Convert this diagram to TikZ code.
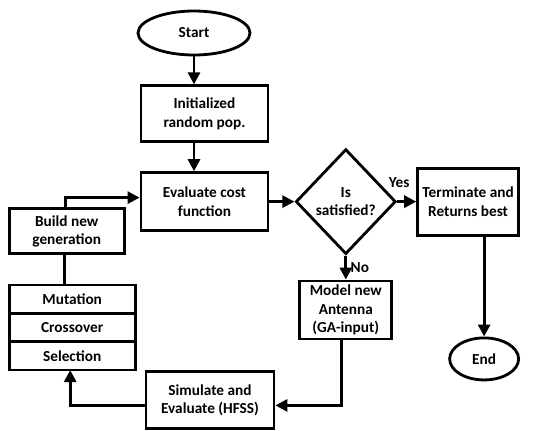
\documentclass[tikz,border=0pt]{standalone}
\usepackage{fontspec}
\setmainfont{Carlito}
\usetikzlibrary{shapes.geometric, arrows.meta, positioning}

\begin{document}
\begin{tikzpicture}[
    >={Triangle[length=0.24cm, width=0.24cm]},
    txt/.style={font=\fontsize{8.7}{10.4}\selectfont\bfseries},
    box/.style={rectangle, draw, line width=1.6pt, minimum width=#1, minimum height=1.14cm, align=center, inner sep=1pt, txt},
    box/.default=2.54cm,
    oval/.style={ellipse, draw, line width=1.6pt, minimum width=#1, minimum height=0.88cm, txt},
    dbox/.style={diamond, draw, line width=1.6pt, minimum width=2cm, minimum height=2.1cm, inner sep=-0.15cm, align=center, txt},
    opbox/.style={rectangle, draw, line width=1.6pt, minimum width=2.52cm, minimum height=0.567cm, outer sep=0pt, inner sep=1pt, txt},
    arr/.style={->, line width=1.6pt},
    lbl/.style={txt, inner sep=2pt}
]
\useasboundingbox (0,0) rectangle (11,-8.6);

% Main column
\node[oval=2.24cm] (start) at (3.88,-0.66) {Start};
\node[box, minimum height=1.12cm, below=0.56cm of start, xshift=0.21cm] (init) {Initialized\\random pop.};
\node[box, minimum height=1.16cm, below=0.56cm of init] (eval) {Evaluate cost\\function};

% Decision and exit
\node[dbox, right=0.5cm of eval] (dec) {Is\\satisfied?};
\node[box=2.02cm, minimum height=1.34cm, right=0.38cm of dec] (stop) {Terminate and\\Returns best};
\node[oval=1.38cm, minimum height=0.84cm, below=2cm of stop, xshift=0.32cm] (end) {End};

% Loop back
\node[box=1.84cm, minimum height=1.16cm, below=0.48cm of dec] (model) {Model new\\Antenna\\(GA-input)};
\node[box=2.56cm, below=2.76cm of eval, xshift=0.11cm] (sim) {Simulate and\\Evaluate (HFSS)};

% GA operators
\node[box=2.3cm, minimum height=0.9cm, left=0.28cm of eval, yshift=-0.59cm] (build) {Build new\\generation};
\node[opbox, below=0.6cm of build, xshift=0.11cm] (mut) {Mutation};
\node[opbox, below=0pt of mut] (cross) {Crossover};
\node[opbox, below=0pt of cross] (sel) {Selection};

% ---- ARROWS ----
\draw[arr] (start.south) -- (start.south |- init.north);
\draw[arr] (start.south |- init.south) -- (start.south |- eval.north);
\draw[arr] (eval) -- (dec);
\draw[arr] (dec) -- node[lbl, pos=0.1, above=0.18cm] {Yes} (stop);
\draw[arr] (end.north |- stop.south) -- (end.north);
\draw[arr] (dec) -- node[lbl, right] {No} (model);
\draw[arr] ([xshift=-0.08cm]model.south) |- ([yshift=-0.11cm]sim.east);
\draw[arr] ([yshift=-0.11cm]sim.west) -| ([xshift=-0.04cm]sel.south);
\draw[line width=1.6pt] ([xshift=-0.16cm]mut.north) -- ([xshift=-0.16cm]mut.north |- build.south);
\draw[arr] ([xshift=-0.03cm]build.north) |- ([yshift=0.08cm]eval.west);

\end{tikzpicture}
\end{document}
